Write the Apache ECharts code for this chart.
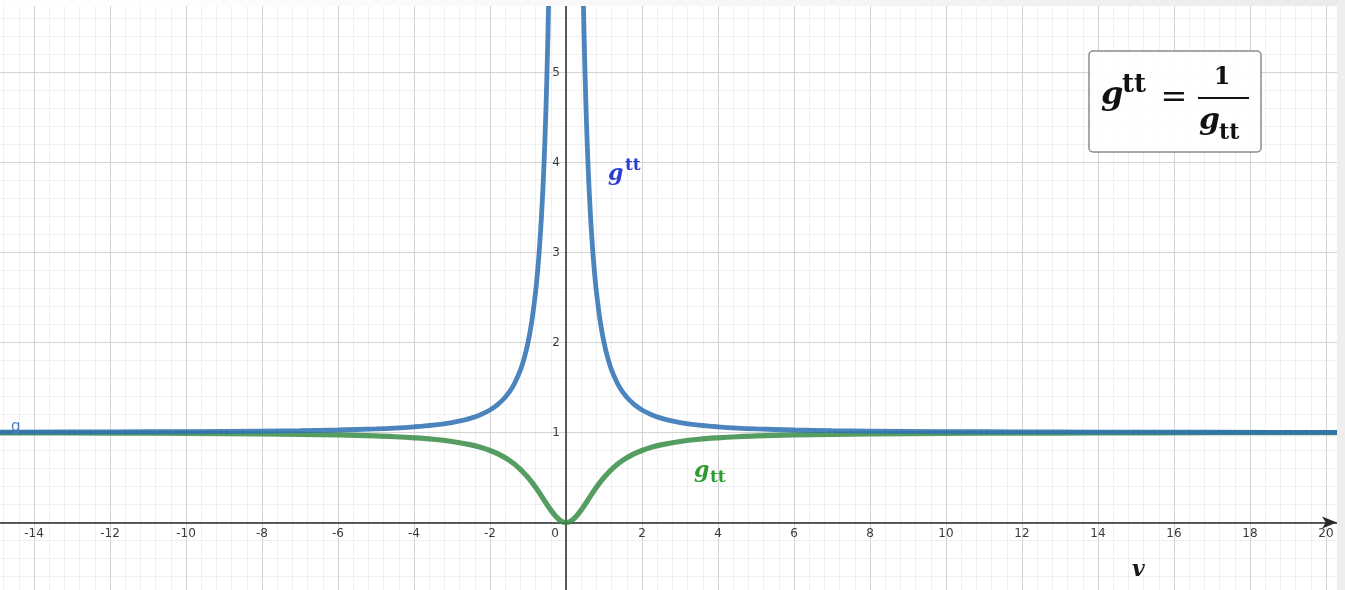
<!DOCTYPE html>
<html>
<head>
<meta charset="utf-8">
<script src="https://cdn.jsdelivr.net/npm/echarts@6/dist/echarts.min.js"></script>
<style>
  html, body { margin: 0; padding: 0; background: #ffffff; }
  #chart { width: 1345px; height: 590px; }
</style>
</head>
<body>
<div id="chart"></div>
<script>
// g^tt curve (upper, blue): v values and readings
const vUpper = [-15, -12, -10, -8, -7, -6, -5, -4.5, -4, -3.5, -3, -2.75, -2.5, -2.25, -2, -1.8, -1.6, -1.4, -1.2, -1.1, -1, -0.9, -0.8, -0.75, -0.7, -0.65, -0.6, -0.55, -0.5, -0.45, -0.4, -0.35,
  0,
  0.35, 0.4, 0.45, 0.5, 0.55, 0.6, 0.65, 0.7, 0.75, 0.8, 0.9, 1, 1.1, 1.2, 1.4, 1.6, 1.8, 2, 2.25, 2.5, 2.75, 3, 3.5, 4, 4.5, 5, 6, 7, 8, 10, 12, 14, 17, 21];
const gUpper = [1.004, 1.007, 1.010, 1.016, 1.020, 1.028, 1.040, 1.049, 1.063, 1.082, 1.111, 1.132, 1.160, 1.198, 1.250, 1.309, 1.391, 1.510, 1.694, 1.826, 2.000, 2.235, 2.563, 2.778, 3.041, 3.367, 3.778, 4.306, 5.000, 5.938, 7.250, 9.163,
  null,
  9.163, 7.250, 5.938, 5.000, 4.306, 3.778, 3.367, 3.041, 2.778, 2.563, 2.235, 2.000, 1.826, 1.694, 1.510, 1.391, 1.309, 1.250, 1.198, 1.160, 1.132, 1.111, 1.082, 1.063, 1.049, 1.040, 1.028, 1.020, 1.016, 1.010, 1.007, 1.005, 1.003, 1.002];

// g_tt curve (lower, green)
const vLower = [-15, -12, -10, -8, -7, -6, -5, -4.5, -4, -3.5, -3, -2.5, -2.25, -2, -1.75, -1.5, -1.25, -1, -0.875, -0.75, -0.625, -0.5, -0.375, -0.25, -0.125,
  0,
  0.125, 0.25, 0.375, 0.5, 0.625, 0.75, 0.875, 1, 1.25, 1.5, 1.75, 2, 2.25, 2.5, 3, 3.5, 4, 4.5, 5, 6, 7, 8, 10, 12, 14, 17, 21];
const gLower = [0.996, 0.993, 0.990, 0.985, 0.980, 0.973, 0.962, 0.953, 0.941, 0.925, 0.900, 0.862, 0.835, 0.800, 0.754, 0.692, 0.610, 0.500, 0.434, 0.360, 0.281, 0.200, 0.123, 0.059, 0.015,
  0.000,
  0.015, 0.059, 0.123, 0.200, 0.281, 0.360, 0.434, 0.500, 0.610, 0.692, 0.754, 0.800, 0.835, 0.862, 0.900, 0.925, 0.941, 0.953, 0.962, 0.973, 0.980, 0.985, 0.990, 0.993, 0.995, 0.997, 0.998];

// axis ranges / tick steps
const xMin = -16, xMax = 20.4, xMajor = 2, xMinor = 0.4;
const yMin = -1, yMax = 5.8, yMajor = 1, yMinor = 0.2;

const upperData = vUpper.map((v, i) => [v, gUpper[i]]);
const lowerData = vLower.map((v, i) => [v, gLower[i]]);

const chart = echarts.init(document.getElementById('chart'), null, { renderer: 'canvas' });

const serif = '"DejaVu Serif", "Liberation Serif", serif';
const sans = '"DejaVu Sans", sans-serif';

function txt(x, y, text, font, fill, align) {
  return {
    type: 'text', x: x, y: y, z: 200,
    style: {
      text: text, font: font, fill: fill,
      align: align || 'left', verticalAlign: 'middle',
      textAlign: align || 'left', textVerticalAlign: 'middle'
    }
  };
}

const pxX = 38, pxY = 90;           // pixels per unit
const gridLeft = -42, gridTop = 0.5;
const zeroYOffset = -(0 - yMin) * pxY;          // move x axis up to zero
const zeroXOffset = -((0 - xMin) * pxX);        // move y axis right to zero

const option = {
  animation: false,
  backgroundColor: '#ffffff',
  grid: { left: gridLeft, top: gridTop, width: (xMax - xMin) * pxX, height: (yMax - yMin) * pxY,
          containLabel: false, outerBoundsMode: 'none' },
  xAxis: [
    {
      type: 'value', min: xMin, max: xMax, interval: xMajor, z: 3,
      position: 'bottom', offset: zeroYOffset,
      axisLine: { onZero: false, lineStyle: { color: '#2b2b2b', width: 1.5 },
        symbol: ['none', 'arrow'], symbolSize: [9, 15], symbolOffset: [0, -4.2] },
      axisTick: { show: false },
      axisLabel: {
        fontFamily: sans, fontSize: 12, color: '#3a3a3a', margin: 5,
        showMinLabel: false, showMaxLabel: false, hideOverlap: false,
        formatter: function (v) {
          if (Math.abs(v - Math.round(v)) > 1e-6) return '';
          if (v === 0) return '{o|0}';
          return String(v);
        },
        rich: { o: { fontFamily: sans, fontSize: 12, color: '#3a3a3a', padding: [0, 22, 0, 0] } }
      },
      splitLine: { show: true, lineStyle: { color: '#d4d4d4', width: 1 } }
    },
    {
      type: 'value', min: xMin, max: xMax, interval: xMinor, z: 1, position: 'top',
      axisLine: { show: false }, axisTick: { show: false }, axisLabel: { show: false },
      splitLine: { show: true, lineStyle: { color: '#f0f0f0', width: 1 } }
    }
  ],
  yAxis: [
    {
      type: 'value', min: yMin, max: yMax, interval: yMajor, z: 3,
      position: 'left', offset: zeroXOffset,
      axisLine: { onZero: false, lineStyle: { color: '#2b2b2b', width: 1.5 } },
      axisTick: { show: false },
      axisLabel: {
        fontFamily: sans, fontSize: 12, color: '#3a3a3a', margin: 6, hideOverlap: false,
        formatter: function (v) {
          if (v >= 1 && v <= 5 && Math.abs(v - Math.round(v)) < 1e-6) return String(v);
          return '';
        }
      },
      splitLine: { show: true, lineStyle: { color: '#d4d4d4', width: 1 } }
    },
    {
      type: 'value', min: yMin, max: yMax, interval: yMinor, z: 1, position: 'right',
      axisLine: { show: false }, axisTick: { show: false }, axisLabel: { show: false },
      splitLine: { show: true, lineStyle: { color: '#f0f0f0', width: 1 } }
    }
  ],
  series: [
    {
      name: 'g_tt', type: 'line', xAxisIndex: 0, yAxisIndex: 0, z: 4,
      data: lowerData, showSymbol: false, symbol: 'none', smooth: 0.35,
      lineStyle: { color: '#388c46', width: 5.2, opacity: 0.85 }
    },
    {
      name: 'g^tt', type: 'line', xAxisIndex: 0, yAxisIndex: 0, z: 5,
      data: upperData, showSymbol: false, symbol: 'none', smooth: 0.35, connectNulls: false,
      lineStyle: { color: '#2d70b3', width: 4.8, opacity: 0.85 }
    }
  ],
  graphic: {
    elements: [
      { type: 'rect', z: 300, shape: { x: 0, y: 0, width: 1345, height: 6 },
        style: { fill: new echarts.graphic.LinearGradient(0, 0, 1, 0, [
          { offset: 0, color: '#ffffff' }, { offset: 0.6, color: '#f6f6f6' }, { offset: 1, color: '#ebebeb' }]) } },
      { type: 'rect', z: 300, shape: { x: 1337, y: 0, width: 8, height: 590 }, style: { fill: '#eeeeee' } },
      { type: 'rect', z: 190, shape: { x: 1089, y: 51, width: 172, height: 101, r: 4 },
        style: { fill: 'rgba(255,255,255,0.9)', stroke: '#8a8a8a', lineWidth: 1.5 } },
      txt(1101, 95.5, 'g', 'italic bold 32px ' + serif, '#111111'),
      txt(1122, 85, 'tt', 'bold 26px ' + serif, '#111111'),
      txt(1174, 99, '=', '32px ' + serif, '#111111', 'center'),
      { type: 'rect', z: 200, shape: { x: 1198, y: 97, width: 51, height: 2 }, style: { fill: '#111111' } },
      txt(1222, 78, '1', 'bold 24px ' + serif, '#111111', 'center'),
      txt(1199, 121, 'g', 'italic bold 30px ' + serif, '#111111'),
      txt(1219, 133.5, 'tt', 'bold 22px ' + serif, '#111111'),
      txt(608, 174.5, 'g', 'italic bold 22px ' + serif, '#2b3fd6'),
      txt(625, 166, 'tt', 'bold 17px ' + serif, '#2b3fd6'),
      txt(694, 471, 'g', 'italic bold 22px ' + serif, '#2f9a2f'),
      txt(710, 478, 'tt', 'bold 17px ' + serif, '#2f9a2f'),
      txt(1132, 570.5, 'v', 'italic bold 22px ' + serif, '#1a1a1a'),
      txt(11, 427, 'g', '15px ' + sans, '#4a80c2')
    ]
  }
};

chart.setOption(option);
</script>
</body>
</html>
